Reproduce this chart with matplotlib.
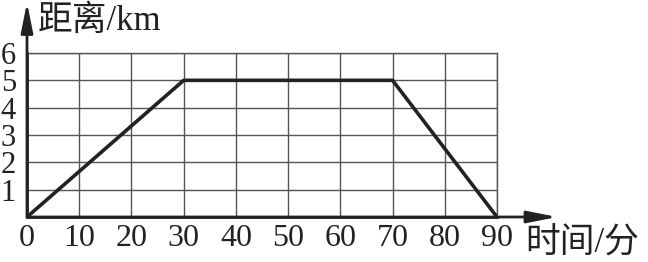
import numpy as np, matplotlib
matplotlib.use("Agg"); import matplotlib.pyplot as plt

# distance vs time (piecewise linear trip)
t_min = [0, 30, 70, 90]
dist_km = [0, 5, 5, 0]
x_ticks = [0, 10, 20, 30, 40, 50, 60, 70, 80, 90]
y_ticks = [0, 1, 2, 3, 4, 5, 6]
y_tick_labels = ["", "1", "2", "3", "4", "5", "6"]

INK = "#222222"
LAT = ["Liberation Serif", "Noto Sans CJK SC", "DejaVu Sans"]
plt.rcParams["font.family"] = LAT

W, H = 648, 262
fig = plt.figure(figsize=(W / 100, H / 100), dpi=100)
# axes box in pixels: x 27..497, y 53..217 (from top)
ax = fig.add_axes([27 / W, (H - 217) / H, 470 / W, 164 / H])
ax.set_xlim(0, 90); ax.set_ylim(0, 6)

ax.set_xticks(x_ticks); ax.set_xticklabels([str(v) for v in x_ticks])
ax.set_yticks(y_ticks); ax.set_yticklabels(y_tick_labels)
ax.tick_params(length=0, colors=INK)
ax.tick_params(axis="x", pad=5, labelsize=23)
ax.tick_params(axis="y", pad=8, labelsize=22)
ax.grid(color="#555555", lw=1)

for s in ["top", "right"]:
    ax.spines[s].set_color("#555555"); ax.spines[s].set_linewidth(1)
for s in ["left", "bottom"]:
    ax.spines[s].set_color(INK); ax.spines[s].set_linewidth(2)

ax.plot(t_min, dist_km, color=INK, lw=2.6, solid_capstyle="round", zorder=5)

# axis arrows
arr = dict(arrowstyle="-|>,head_length=0.9,head_width=0.18", lw=2, color=INK,
           mutation_scale=20, shrinkA=0, shrinkB=0)
ax.annotate("", xy=(0, 7.85), xytext=(0, 0), arrowprops=arr, annotation_clip=False)
ax.annotate("", xy=(101.5, 0), xytext=(0, 0), arrowprops=arr, annotation_clip=False)

ax.text(2.1, 7.15, "距离/km", fontsize=25, color=INK, ha="left", va="center",
        family=LAT, clip_on=False)
ax.text(95.5, -0.98, "时间/分", fontsize=25, color=INK, ha="left", va="center",
        family=LAT, clip_on=False)

plt.savefig("out.png", dpi=100)
